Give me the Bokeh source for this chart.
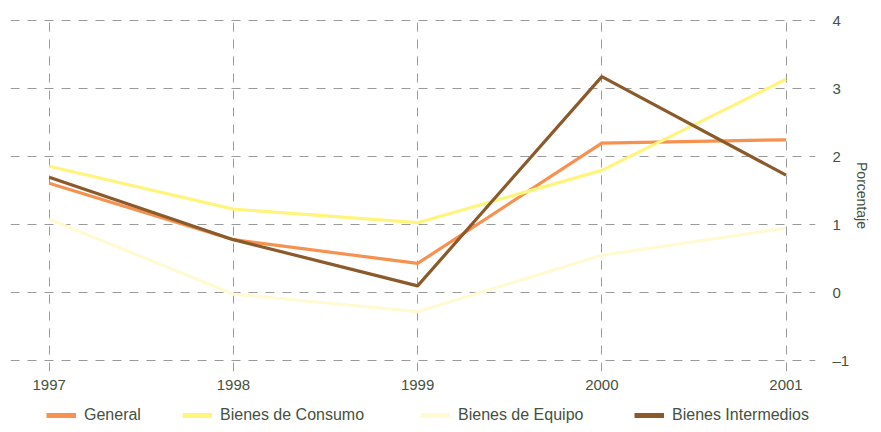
from bokeh.plotting import figure
from bokeh.layouts import column
from bokeh.models import Range1d, FixedTicker, LinearAxis, Legend, LegendItem
from bokeh.embed import file_html
from bokeh.resources import INLINE

years = [1997, 1998, 1999, 2000, 2001]
general = [1.61, 0.78, 0.43, 2.20, 2.25]
consumo = [1.86, 1.23, 1.03, 1.80, 3.14]
equipo = [1.08, -0.02, -0.28, 0.55, 0.95]
intermedios = [1.70, 0.78, 0.10, 3.18, 1.73]

series = [
    ("General", general, "#f7914f"),
    ("Bienes de Consumo", consumo, "#fff57c"),
    ("Bienes de Equipo", equipo, "#fffad2"),
    ("Bienes Intermedios", intermedios, "#8b5a2b"),
]

x_ticks = [1997, 1998, 1999, 2000, 2001]
y_ticks = [-1, 0, 1, 2, 3, 4]

TXT = "#44523f"
FONT = "Liberation Sans"
W = 873

p = figure(width=W, height=392, output_backend="svg", toolbar_location=None,
           x_range=Range1d(1996.79, 2001.16), y_range=Range1d(-1.16, 4.02),
           y_axis_location=None, min_border_left=10, min_border_top=19,
           min_border_right=0, min_border_bottom=0)
p.outline_line_color = None
p.background_fill_color = "white"
p.border_fill_color = "white"

for name, vals, col in series:
    p.line(years, vals, line_color=col, line_width=3.2)

# x axis
xa = p.xaxis[0]
xa.ticker = FixedTicker(ticks=x_ticks)
xa.axis_line_color = None
xa.major_tick_line_color = None
xa.minor_tick_line_color = None
xa.major_label_standoff = 2
xa.major_label_text_font = FONT
xa.major_label_text_font_size = "15px"
xa.major_label_text_color = TXT

# y axis on right
ya = LinearAxis(ticker=FixedTicker(ticks=y_ticks), axis_label="Porcentaje")
ya.axis_line_color = None
ya.major_tick_line_color = None
ya.minor_tick_line_color = None
ya.major_label_standoff = 11
ya.major_label_overrides = {-1: "\u20131"}
ya.major_label_text_font = FONT
ya.major_label_text_font_size = "15px"
ya.major_label_text_color = TXT
ya.axis_label_text_font = FONT
ya.axis_label_text_font_size = "14px"
ya.axis_label_text_font_style = "normal"
ya.axis_label_text_color = TXT
ya.axis_label_standoff = 2
p.add_layout(ya, "right")

for g, ticks in ((p.xgrid[0], x_ticks), (p.ygrid[0], y_ticks)):
    g.ticker = FixedTicker(ticks=ticks)
    g.grid_line_color = "#9a9a9a"
    g.grid_line_dash = "9 8"
    g.grid_line_width = 1

# legend strip (sample lines lie outside its visible range; only the legend shows)
lf = figure(width=W, height=32, output_backend="svg", toolbar_location=None,
            x_range=Range1d(0, 1), y_range=Range1d(0, 1),
            x_axis_location=None, y_axis_location=None,
            min_border_left=0, min_border_right=0, min_border_top=0, min_border_bottom=0)
lf.outline_line_color = None
lf.xgrid.visible = False
lf.ygrid.visible = False
legend_x = [36, 172, 410, 624]
for (name, vals, col), lx in zip(series, legend_x):
    r = lf.line(years, vals, line_color=col, line_width=5)
    lg = Legend(items=[LegendItem(label=name, renderers=[r])], location=(lx, 0),
                label_text_font=FONT, label_text_font_size="16px", label_text_color=TXT,
                glyph_width=30, glyph_height=16, label_standoff=8,
                padding=2, margin=0, border_line_color=None, background_fill_alpha=0)
    lf.add_layout(lg, "center")

open("out.html", "w").write(file_html(column(p, lf, spacing=0), INLINE))
